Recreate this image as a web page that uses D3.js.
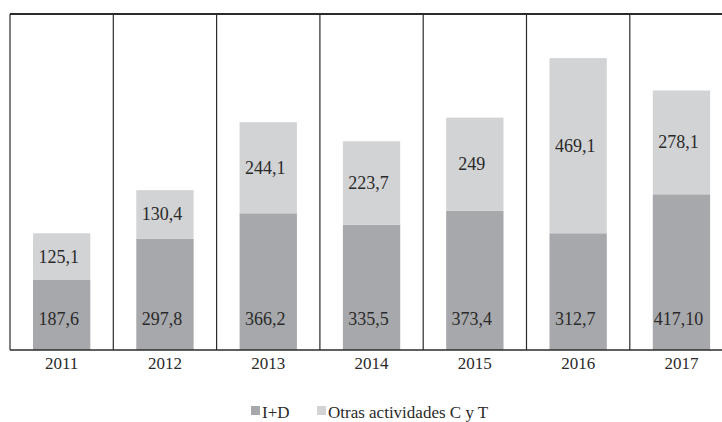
<!DOCTYPE html>
<html>
<head>
<meta charset="utf-8">
<script src="https://cdn.jsdelivr.net/npm/d3@7/dist/d3.min.js"></script>
<style>
  html, body { margin: 0; padding: 0; background: #ffffff; }
  svg { display: block; }
</style>
</head>
<body>
<svg id="chart" width="722" height="422"></svg>
<script>
// Years on the horizontal axis
const years = ["2011", "2012", "2013", "2014", "2015", "2016", "2017"];

// I+D spending per year
const idValues = [187.6, 297.8, 366.2, 335.5, 373.4, 312.7, 417.1];
const idLabels = ["187,6", "297,8", "366,2", "335,5", "373,4", "312,7", "417,10"];

// Other science & technology activities per year
const otherValues = [125.1, 130.4, 244.1, 223.7, 249, 469.1, 278.1];
const otherLabels = ["125,1", "130,4", "244,1", "223,7", "249", "469,1", "278,1"];

const seriesNames = ["I+D", "Otras actividades C y T"];
const colors = { id: "#a7a8ab", other: "#d2d3d5", line: "#2b2b2b", text: "#2a2a2a" };
const serif = "'Liberation Serif', 'DejaVu Serif', serif";

const svg = d3.select("#chart");

const plotTop = 14, plotBottom = 350, plotLeft = 10;
const bandStep = 103.3;

const x = d3.scaleBand()
  .domain(years)
  .range([plotLeft, plotLeft + bandStep * years.length])
  .paddingInner(0)
  .paddingOuter(0);

const y = d3.scaleLinear()
  .domain([0, 900])
  .range([plotBottom, plotTop]);

const barW = x.bandwidth() * 0.555;

const rows = years.map((yr, i) => ({
  year: yr,
  id: idValues[i], idLabel: idLabels[i],
  other: otherValues[i], otherLabel: otherLabels[i]
}));

// Stacked bars
const g = svg.append("g");

g.selectAll("rect.id").data(rows).join("rect")
  .attr("class", "id")
  .attr("x", d => x(d.year) + (x.bandwidth() - barW) / 2)
  .attr("width", barW)
  .attr("y", d => y(d.id))
  .attr("height", d => y(0) - y(d.id))
  .attr("fill", colors.id);

g.selectAll("rect.other").data(rows).join("rect")
  .attr("class", "other")
  .attr("x", d => x(d.year) + (x.bandwidth() - barW) / 2)
  .attr("width", barW)
  .attr("y", d => y(d.id + d.other))
  .attr("height", d => y(d.id) - y(d.id + d.other))
  .attr("fill", colors.other);

// Value labels: I+D near the base, the other series centred in its segment
g.selectAll("text.idlab").data(rows).join("text")
  .attr("class", "idlab")
  .attr("x", d => x(d.year) + x.bandwidth() / 2 - 3)
  .attr("y", y(0) - 25)
  .attr("text-anchor", "middle")
  .style("font-family", serif)
  .style("font-size", "18px")
  .style("fill", colors.text)
  .text(d => d.idLabel);

g.selectAll("text.otherlab").data(rows).join("text")
  .attr("class", "otherlab")
  .attr("x", d => x(d.year) + x.bandwidth() / 2 - 3)
  .attr("y", d => (y(d.id) + y(d.id + d.other)) / 2 + 6)
  .attr("text-anchor", "middle")
  .style("font-family", serif)
  .style("font-size", "18px")
  .style("fill", colors.text)
  .text(d => d.otherLabel);

// Frame: top rule, left edge and separators between years
svg.append("line")
  .attr("x1", plotLeft).attr("x2", 722)
  .attr("y1", plotTop).attr("y2", plotTop)
  .attr("stroke", colors.line).attr("stroke-width", 2);

const separators = years.map(yr => x(yr));
svg.selectAll("line.sep").data(separators).join("line")
  .attr("class", "sep")
  .attr("x1", d => d).attr("x2", d => d)
  .attr("y1", plotTop).attr("y2", plotBottom)
  .attr("stroke", colors.line).attr("stroke-width", 1.2);

// Bottom axis
const xAxis = d3.axisBottom(x).tickSize(0).tickPadding(7);
const axisG = svg.append("g")
  .attr("transform", `translate(0,${plotBottom})`)
  .call(xAxis);
axisG.select(".domain").remove();
axisG.append("line")
  .attr("x1", plotLeft).attr("x2", 722)
  .attr("y1", 0).attr("y2", 0)
  .attr("stroke", colors.line).attr("stroke-width", 1.4);
axisG.selectAll(".tick text")
  .style("font-family", serif)
  .style("font-size", "17px")
  .style("fill", colors.text);

// Legend
const legend = svg.append("g").attr("transform", "translate(251,406)");
const legendItems = [
  { name: seriesNames[0], color: colors.id, x: 0 },
  { name: seriesNames[1], color: colors.other, x: 66 }
];
const li = legend.selectAll("g").data(legendItems).join("g")
  .attr("transform", d => `translate(${d.x},0)`);
li.append("rect").attr("width", 9).attr("height", 9).attr("fill", d => d.color);
li.append("text")
  .attr("x", 11)
  .attr("y", 12)
  .style("font-family", serif)
  .style("font-size", "17px")
  .style("fill", colors.text)
  .text(d => d.name);
</script>
</body>
</html>
